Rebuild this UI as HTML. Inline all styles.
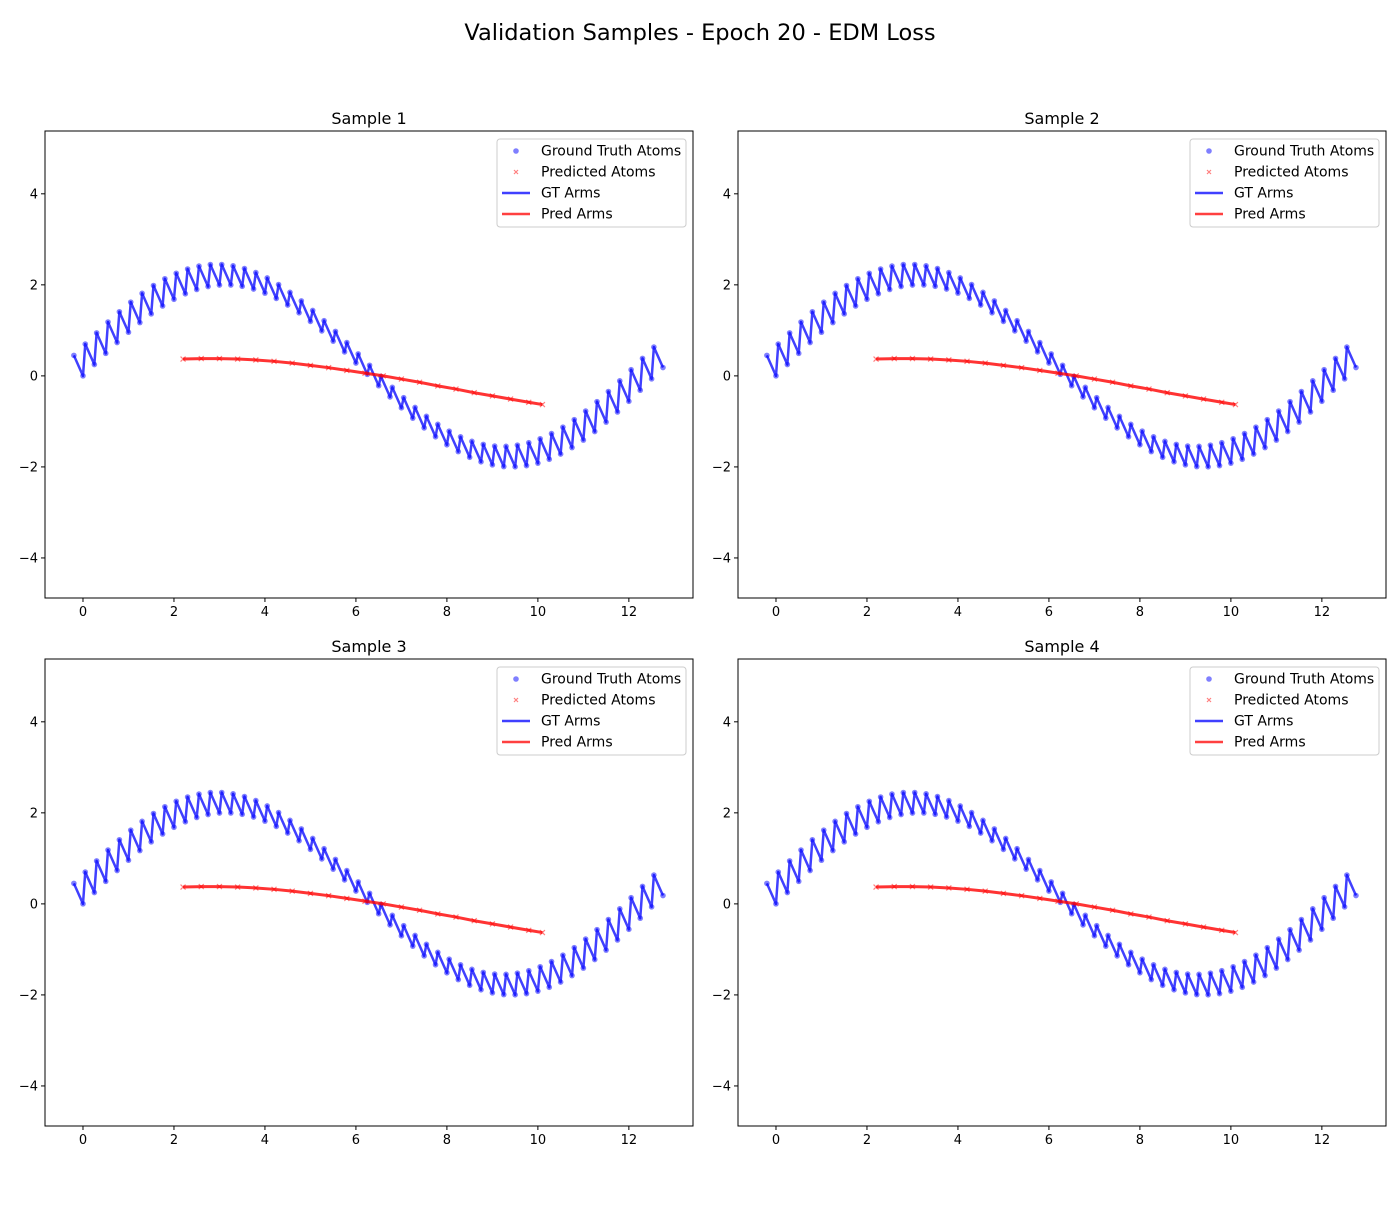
<!DOCTYPE html>
<html><head><meta charset="utf-8"><style>
body{margin:0;background:#fff;font-family:"Liberation Sans","DejaVu Sans",sans-serif}
</style></head><body>
<svg id="fig" width="1400" height="1200" xmlns="http://www.w3.org/2000/svg" font-family="DejaVu Sans, Liberation Sans, sans-serif">
<rect width="1400" height="1200" fill="#fff"/>
<text x="700" y="40" font-size="22.5" text-anchor="middle">Validation Samples - Epoch 20 - EDM Loss</text>
</svg>
<script>
const gtX = [0,0.25,0.5,0.75,1,1.25,1.5,1.75,2,2.25,2.5,2.75,3,3.25,3.5,3.75,4,4.25,4.5,4.75,5,5.25,5.5,5.75,6,6.25,6.5,6.75,7,7.25,7.5,7.75,8,8.25,8.5,8.75,9,9.25,9.5,9.75,10,10.25,10.5,10.75,11,11.25,11.5,11.75,12,12.25,12.5,12.75];
const gtY = [0,.249,.495,.733,.959,1.170,1.363,1.535,1.683,1.804,1.898,1.962,1.995,1.997,1.968,1.908,1.819,1.701,1.556,1.386,1.197,.988,.763,.527,.282,.033,-.217,-.462,-.702,-.929,-1.143,-1.338,-1.514,-1.664,-1.789,-1.888,-1.955,-1.993,-1.998,-1.972,-1.918,-1.832,-1.718,-1.576,-1.411,-1.223,-1.016,-.793,-.559,-.315,-.066,.183];
const armDX = -0.2, armDY = 0.45;
const predX = [2.2,2.6,3.0,3.4,3.8,4.2,4.6,5.0,5.4,5.8,6.2,6.6,7.0,7.4,7.8,8.2,8.6,9.0,9.4,9.8,10.1];
const predY = [0.37,0.38,0.38,0.37,0.35,0.32,0.28,0.23,0.18,0.12,0.06,0.0,-0.07,-0.14,-0.22,-0.29,-0.37,-0.44,-0.51,-0.58,-0.63];
const xTicks = [0,2,4,6,8,10,12];
const yTicks = [-4,-2,0,2,4];
const titles = ["Sample 1","Sample 2","Sample 3","Sample 4"];
const NS="http://www.w3.org/2000/svg", svg=document.getElementById('fig');
function mk(tag,at,parent){const e=document.createElementNS(NS,tag);for(const k in at)e.setAttribute(k,at[k]);(parent||svg).appendChild(e);return e;}
const panels=[[45,131],[738,131],[45,659],[738,659]];
const W=648,H=467,xmin=-0.835,xmax=13.41,ymin=-4.88,ymax=5.38;
panels.forEach((p,i)=>{
 const [L,T]=p;
 const g=mk('g',{});
 
 
 const sx=v=>L+(v-xmin)/(xmax-xmin)*W, sy=v=>T+H-(v-ymin)/(ymax-ymin)*H;
 const t=mk('text',{x:L+W/2,y:T-7,'font-size':16,'text-anchor':'middle'},g);t.textContent=titles[i];
 
 
 xTicks.forEach(v=>{mk('line',{x1:sx(v),x2:sx(v),y1:T+H,y2:T+H+4,stroke:'#000'},g);const tt=mk('text',{x:sx(v),y:T+H+18,'font-size':13,'text-anchor':'middle'},g);tt.textContent=v;
  
  });
 yTicks.forEach(v=>{mk('line',{x1:L-4,x2:L,y1:sy(v),y2:sy(v),stroke:'#000'},g);const tt=mk('text',{x:L-7,y:sy(v)+4.5,'font-size':13,'text-anchor':'end'},g);tt.textContent=v<0?'\u2212'+(-v):v;
  
  });
 let d='';gtX.forEach((x,k)=>{d+=(k?'L':'M')+sx(x+armDX)+','+sy(gtY[k]+armDY)+'L'+sx(x)+','+sy(gtY[k]);});
 const gl=mk('path',{d:d,fill:'none',stroke:'#0000ff','stroke-opacity':0.75,'stroke-width':2.5,'stroke-linejoin':'round'},g);
 
 
 gtX.forEach((x,k)=>{[[x,gtY[k]],[x+armDX,gtY[k]+armDY]].forEach(q=>{const c=mk('circle',{cx:sx(q[0]),cy:sy(q[1]),r:2.8,fill:'#0000ff','fill-opacity':0.5},g);
  
  });});
 let pd='';predX.forEach((x,k)=>{pd+=(k?'L':'M')+sx(x)+','+sy(predY[k]);});
 const pl=mk('path',{d:pd,fill:'none',stroke:'#ff0000','stroke-opacity':0.8,'stroke-width':3},g);
 
 
 predX.forEach((x,k)=>{const X=sx(x),Y=sy(predY[k]);const m=mk('path',{d:`M${X-2.5},${Y-2.5}L${X+2.5},${Y+2.5}M${X-2.5},${Y+2.5}L${X+2.5},${Y-2.5}`,stroke:'#ff0000','stroke-opacity':0.5,'stroke-width':1.2},g);
  
  });
 mk('rect',{x:L,y:T,width:W,height:H,fill:'none',stroke:'#000','stroke-width':1},g);
 const lg=mk('g',{},g);
 
 
 const lx=L+452,ly=T+8;
 mk('rect',{x:lx,y:ly,width:189,height:88,rx:3,fill:'#fff','fill-opacity':0.8,stroke:'#ccc'},lg);
 const labels=['Ground Truth Atoms','Predicted Atoms','GT Arms','Pred Arms'];
 labels.forEach((s,j)=>{const yy=ly+12+j*21;
  if(j==0)mk('circle',{cx:lx+19,cy:yy,r:2.8,fill:'#0000ff','fill-opacity':0.5},lg);
  if(j==1)mk('path',{d:`M${lx+17},${yy-2}L${lx+21},${yy+2}M${lx+17},${yy+2}L${lx+21},${yy-2}`,stroke:'#ff0000','stroke-opacity':0.5,'stroke-width':1.2},lg);
  if(j==2)mk('line',{x1:lx+5,x2:lx+33,y1:yy,y2:yy,stroke:'#0000ff','stroke-opacity':0.75,'stroke-width':2.5},lg);
  if(j==3)mk('line',{x1:lx+5,x2:lx+33,y1:yy,y2:yy,stroke:'#ff0000','stroke-opacity':0.75,'stroke-width':2.5},lg);
  const tx=mk('text',{x:lx+44,y:yy+4.5,'font-size':14},lg);tx.textContent=s;
  
  });
});
</script>
</body></html>
